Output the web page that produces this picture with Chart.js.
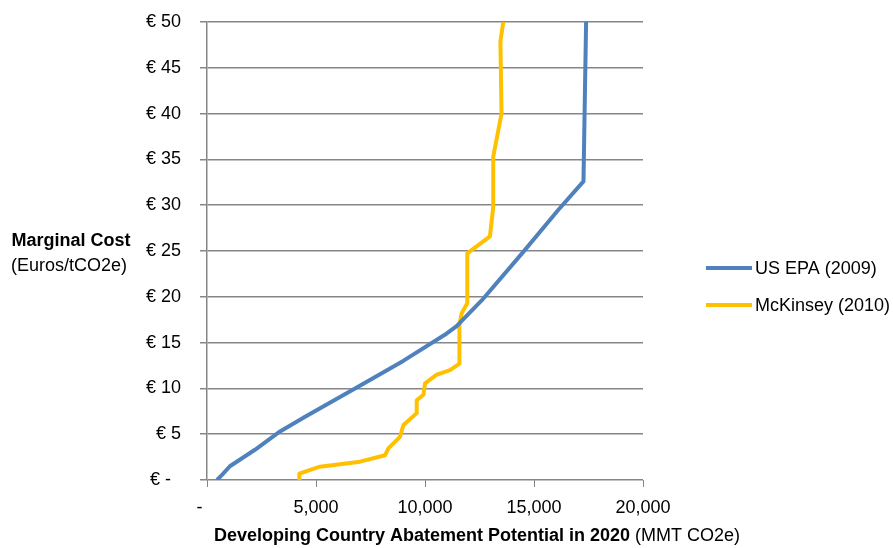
<!DOCTYPE html>
<html>
<head>
<meta charset="utf-8">
<script src="https://cdn.jsdelivr.net/npm/chart.js@4.4.0/dist/chart.umd.min.js"></script>
<style>
  html, body { margin: 0; padding: 0; background: #fff; }
  #wrap { width: 893px; height: 548px; position: relative; }
</style>
</head>
<body>
<div id="wrap"><canvas id="chart"></canvas></div>
<script>
// ===== data =====
var seriesNames = ['US EPA (2009)', 'McKinsey (2010)'];
var seriesColors = ['#4F81BD', '#FFC000'];

// abatement potential (MMT CO2e) vs marginal cost (EUR/tCO2e)
var epaPotential = [460, 700, 1050, 2200, 3350, 4500, 6870, 9000, 11000, 11450, 12600, 14510, 16120, 17270, 17320, 17390];
var epaCost      = [0,   0.6, 1.5,  3.3,  5.3,  6.9,  10.1, 13.0, 16.0,  16.8,  19.6,  24.9,  29.5,  32.6,  40.0,  50.0];

var mckPotential = [4235, 4235, 5180, 7020, 8165, 8320, 8850, 9010, 9620, 9620, 9930, 10000, 10540, 11150, 11580, 11580, 11680, 11940, 11940, 12980, 13130, 13130, 13510, 13460, 13590];
var mckCost      = [0,    0.7,  1.45, 2.0,  2.7,  3.45, 4.7,  6.0,  7.3,  8.7,  9.3,  10.55, 11.5,  12.0,  12.7,  16.9,  18.2,  19.3,  24.75, 26.6,  29.8,  35.3,  40.0,  47.9,  50.0];

var xMin = 0, xMax = 20000, xStep = 5000;
var yMin = 0, yMax = 50, yStep = 5;

var xTitleBold = 'Developing Country Abatement Potential in 2020';
var xTitleNormal = ' (MMT CO2e)';
var yTitleBold = 'Marginal Cost';
var yTitleNormal = '(Euros/tCO2e)';

var FONT = '"Liberation Sans", Arial, sans-serif';
var TXT = 18;

function toPoints(xs, ys) {
  return xs.map(function(x, i) { return { x: x, y: ys[i] }; });
}

// titles + legend drawn by hand (mixed bold / normal text, horizontal y title)
var textPlugin = {
  id: 'textPlugin',
  afterDraw: function(chart) {
    var ctx = chart.ctx;
    ctx.save();
    ctx.fillStyle = '#000';
    ctx.textBaseline = 'middle';

    // y title
    ctx.textAlign = 'center';
    ctx.font = 'bold ' + TXT + 'px ' + FONT;
    ctx.fillText(yTitleBold, 71, 241);
    ctx.font = TXT + 'px ' + FONT;
    ctx.fillText(yTitleNormal, 69, 266);

    // x title
    ctx.textAlign = 'left';
    ctx.font = 'bold ' + TXT + 'px ' + FONT;
    var wb = ctx.measureText(xTitleBold).width;
    ctx.font = TXT + 'px ' + FONT;
    var wn = ctx.measureText(xTitleNormal).width;
    var startX = 477 - (wb + wn) / 2;
    ctx.font = 'bold ' + TXT + 'px ' + FONT;
    ctx.fillText(xTitleBold, startX, 536);
    ctx.font = TXT + 'px ' + FONT;
    ctx.fillText(xTitleNormal, startX + wb, 536);

    // legend
    var legendY = [268, 305];
    seriesNames.forEach(function(name, i) {
      ctx.strokeStyle = seriesColors[i];
      ctx.lineWidth = 4;
      ctx.beginPath();
      ctx.moveTo(706, legendY[i]);
      ctx.lineTo(752, legendY[i]);
      ctx.stroke();
      ctx.fillStyle = '#000';
      ctx.font = TXT + 'px ' + FONT;
      ctx.fillText(name, 755, legendY[i] + 1);
    });
    ctx.restore();
  }
};

new Chart(document.getElementById('chart'), {
  type: 'scatter',
  data: {
    datasets: [
      { label: seriesNames[0], data: toPoints(epaPotential, epaCost), showLine: true,
        borderColor: seriesColors[0], backgroundColor: seriesColors[0], borderWidth: 4,
        pointRadius: 0, tension: 0, borderJoinStyle: 'round', borderCapStyle: 'butt' },
      { label: seriesNames[1], data: toPoints(mckPotential, mckCost), showLine: true,
        borderColor: seriesColors[1], backgroundColor: seriesColors[1], borderWidth: 4,
        pointRadius: 0, tension: 0, borderJoinStyle: 'round', borderCapStyle: 'butt' }
    ]
  },
  options: {
    responsive: true,
    maintainAspectRatio: false,
    animation: false,
    layout: { padding: { left: 0, right: 250, top: 22, bottom: 0 } },
    plugins: {
      legend: { display: false },
      tooltip: { enabled: false }
    },
    scales: {
      x: {
        type: 'linear', min: xMin, max: xMax,
        ticks: {
          stepSize: xStep, color: '#000', padding: 10,
          font: { family: FONT, size: TXT },
          maxRotation: 0,
          callback: function(v) { return v === 0 ? '-   ' : v.toLocaleString('en-US'); }
        },
        grid: { display: true, drawOnChartArea: false, drawTicks: true, tickLength: 7, color: '#868686', lineWidth: 1 },
        border: { display: false },
        afterFit: function(scale) { scale.height = 68; scale.paddingLeft = 0; scale.paddingRight = 0; }
      },
      y: {
        type: 'linear', min: yMin, max: yMax,
        ticks: {
          stepSize: yStep, color: '#000', padding: 19,
          font: { family: FONT, size: TXT },
          callback: function(v) { return v === 0 ? '€ -  ' : '€ ' + v; }
        },
        grid: { display: true, drawTicks: true, tickLength: 7, color: '#868686', lineWidth: 1.5 },
        border: { display: true, color: '#868686', width: 1.5 },
        afterFit: function(scale) { scale.width = 207; scale.paddingTop = 0; scale.paddingBottom = 0; }
      }
    }
  },
  plugins: [textPlugin]
});
</script>
</body>
</html>
